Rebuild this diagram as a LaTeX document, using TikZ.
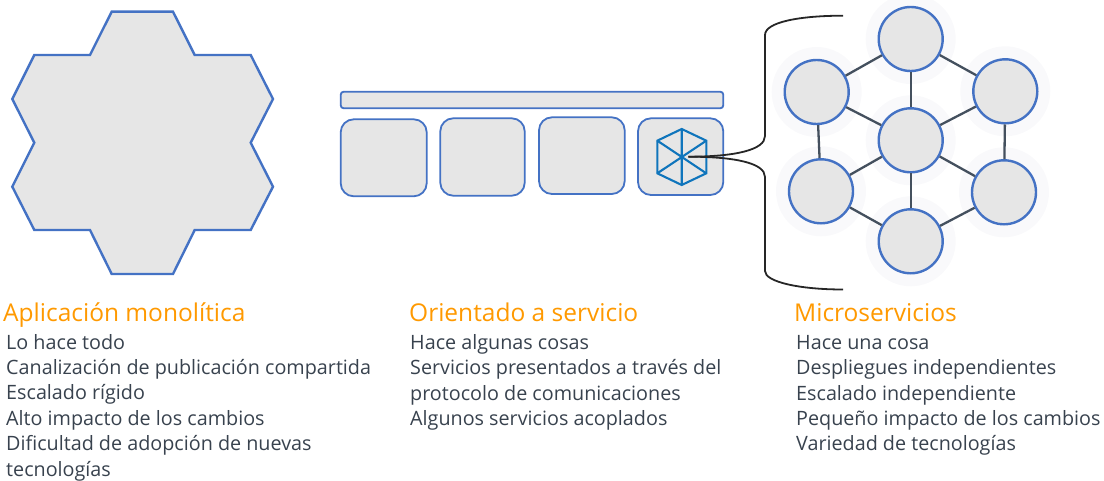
\documentclass[tikz,border=0pt]{standalone}
\usepackage{fontspec}
\setmainfont{Open Sans}
\definecolor{edgeblue}{HTML}{4472C4}
\definecolor{fillgray}{HTML}{E6E6E6}
\definecolor{halo}{HTML}{F9F9FB}
\definecolor{iconblue}{HTML}{0F75BC}
\definecolor{linkgray}{HTML}{44505E}
\definecolor{titleorange}{HTML}{FF9900}
\definecolor{bodytext}{HTML}{38424E}
\tikzset{
  shapefill/.style={draw=edgeblue,fill=fillgray,line width=2.4pt,line join=miter},
  roundbox/.style={draw=edgeblue,fill=fillgray,line width=1.8pt,rounded corners=13pt},
  barbox/.style={draw=edgeblue,fill=fillgray,line width=1.8pt,rounded corners=3pt},
  microsvc/.style={circle,draw=edgeblue,fill=fillgray,line width=2.4pt,minimum size=64pt,inner sep=0pt},
  glow/.style={circle,fill=halo,minimum size=90pt,inner sep=0pt},
  svclink/.style={draw=linkgray,line width=2.3pt},
  bracket/.style={draw=black!85,line width=1.8pt},
  icon/.style={draw=iconblue,line width=2.1pt,line join=miter},
  headtext/.style={anchor=base west,inner sep=0pt,text=titleorange,font=\fontsize{24.5}{28}\selectfont},
  bodyblock/.style={anchor=base west,inner sep=0pt,align=left,text=bodytext,font=\fontsize{19.75}{25.35}\selectfont},
}
\begin{document}
\begin{tikzpicture}[x=1pt,y=-1pt]
\useasboundingbox (0,0) rectangle (1104,481);
% monolith
\path[shapefill] (111.7,11.7) -- (173,11.7) -- (194.7,55) -- (250.7,55) -- (273,99) -- (250.7,142.7) -- (273,186.7) -- (250.7,230) -- (194.7,230) -- (173,274) -- (111.7,274) -- (90,230) -- (34.3,230) -- (12.3,186.7) -- (34.3,142.7) -- (12.3,99) -- (34.3,55) -- (90,55) -- cycle;
% SOA
\path[barbox] (340.7,91.7) rectangle (723.3,108.3);
\path[roundbox] (340.7,119.3) rectangle (426.7,196.3);
\path[roundbox] (440.3,118.3) rectangle (524.7,195.7);
\path[roundbox] (539,117.3) rectangle (624.7,194);
\path[roundbox] (638,118.3) rectangle (723.3,195);
% cube icon
\coordinate (c1) at (681.7,129);
\coordinate (c2) at (706.3,140.7);
\coordinate (c3) at (706.3,173.3);
\coordinate (c4) at (681.7,185);
\coordinate (c5) at (657.3,173.3);
\coordinate (c6) at (657.3,140.7);
\draw[icon] (c1) -- (c2) -- (c3) -- (c4) -- (c5) -- (c6) -- cycle;
\draw[icon] (c1) -- (c4) (c2) -- (c5) (c3) -- (c6);
% brackets
\coordinate (bs) at (688.3,156.7);
\coordinate (bt) at (843,15.7);
\coordinate (bb) at (843,289.5);
\draw[bracket] (bs) .. controls (735,156.7) and (765,150) .. (765,136) -- (765,35) .. controls (765,22) and (800,15.7) .. (bt);
\draw[bracket] (bs) .. controls (735,156.7) and (765,163) .. (765,177) -- (765,271) .. controls (765,282) and (800,289.5) .. (bb);
% halos
\foreach \p in {(910.7,39),(816.7,92),(1005.3,91.3),(910.7,140.3),(821,191.3),(1004,192.3),(910.7,241.3)}
  \node[glow] at \p {};
% microservices
\node[microsvc] (T) at (910.7,39) {};
\node[microsvc] (LT) at (816.7,92) {};
\node[microsvc] (RT) at (1005.3,91.3) {};
\node[microsvc] (C) at (910.7,140.3) {};
\node[microsvc] (LB) at (821,191.3) {};
\node[microsvc] (RB) at (1004,192.3) {};
\node[microsvc] (B) at (910.7,241.3) {};
\foreach \a/\b in {T/LT,T/RT,T/C,LT/C,RT/C,LT/LB,RT/RB,LB/C,RB/C,B/C,B/LB,B/RB}
  \draw[svclink] (\a) -- (\b);
% text
\node[headtext] (h1) at (3,322) {Aplicación monolítica};
\node[headtext] (h2) at (409,322) {Orientado a servicio};
\node[headtext] (h3) at (794,322) {Microservicios};
\node[bodyblock] (t1) at (6,476) {Lo hace todo\\Canalización de publicación compartida\\Escalado rígido\\Alto impacto de los cambios\\Dificultad de adopción de nuevas\\tecnologías};
\node[bodyblock] (t2) at (410,425.4) {Hace algunas cosas\\Servicios presentados a través del\\protocolo de comunicaciones\\Algunos servicios acoplados};
\node[bodyblock] (t3) at (796,450.7) {Hace una cosa\\Despliegues independientes\\Escalado independiente\\Pequeño impacto de los cambios\\Variedad de tecnologías};
\end{tikzpicture}
\end{document}
